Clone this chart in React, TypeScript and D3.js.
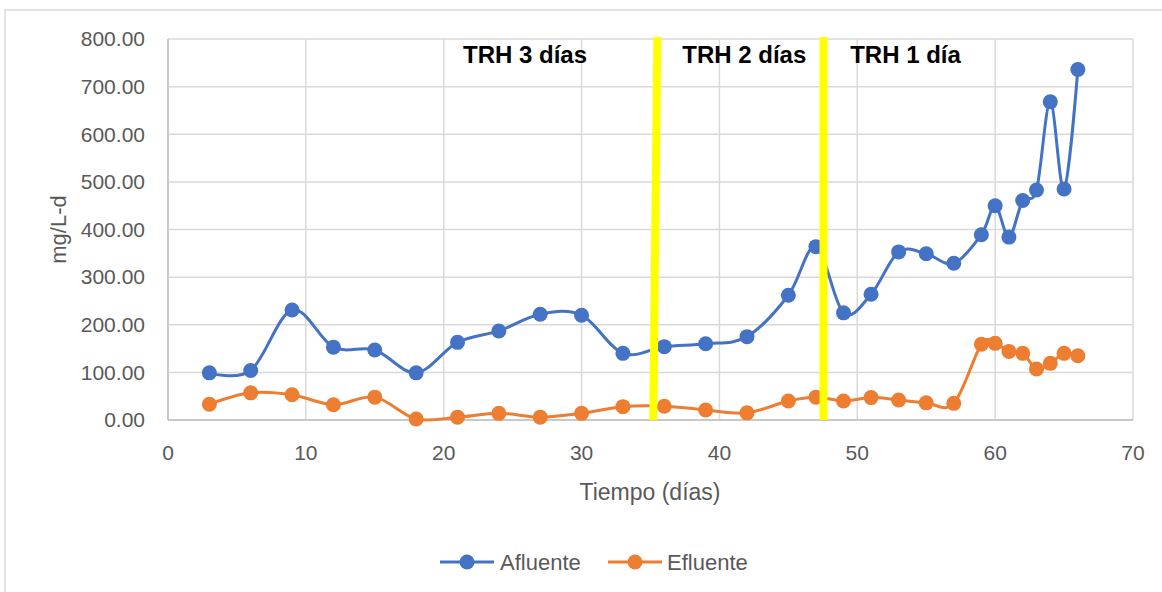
import React from 'react';
import * as d3 from 'd3';

// days of sampling
const dias = [3, 6, 9, 12, 15, 18, 21, 24, 27, 30, 33, 36, 39, 42, 45, 47, 49, 51, 53, 55, 57, 59, 60, 61, 62, 63, 64, 65, 66];
const afluente = [99, 104, 231, 153, 147, 99, 163, 187, 222, 220, 140, 154, 160, 175, 262, 364, 225, 264, 353, 349, 329, 389, 450, 384, 461, 483, 668, 485, 736];
const efluente = [33, 57, 53, 32, 48, 2, 6, 14, 6, 14, 28, 29, 21, 15, 40, 48, 40, 47, 42, 36, 35, 159, 161, 144, 140, 107, 119, 140, 135];

const series = [
  { name: 'Afluente', values: afluente, color: '#4472C4' },
  { name: 'Efluente', values: efluente, color: '#ED7D31' },
];

// yellow separators between the HRT phases (top / bottom x in days)
const separadores = [
  { top: 35.5, bottom: 35.2 },
  { top: 47.55, bottom: 47.55 },
];
const fases = ['TRH 3 días', 'TRH 2 días', 'TRH 1 día'];
const fasesX = [25.9, 41.8, 53.5];

const xTicks = [0, 10, 20, 30, 40, 50, 60, 70];
const yTicks = [0, 100, 200, 300, 400, 500, 600, 700, 800];

const W = 1162;
const H = 592;
const font = '"Liberation Sans", Arial, sans-serif';

export default function App() {
  const x = d3.scaleLinear().domain([0, 70]).range([168, 1133]);
  const y = d3.scaleLinear().domain([0, 800]).range([420, 39]);

  const line = d3
    .line<number>()
    .x((_, i) => x(dias[i]))
    .y((d) => y(d))
    .curve(d3.curveCatmullRom.alpha(0));

  const legendItems = [
    { lx: 440, tx: 500 },
    { lx: 608, tx: 667 },
  ];

  return (
    <svg width={W} height={H} style={{ position: 'absolute', left: 0, top: 0, background: '#fff' }} fontFamily={font}>
      <rect x={5} y={10} width={W + 20} height={H + 20} fill="#fff" stroke="#D9D9D9" strokeWidth={1.5} />

      {/* grid */}
      {yTicks.map((t) => (
        <line key={'gy' + t} x1={x(0)} x2={x(70)} y1={y(t)} y2={y(t)} stroke="#D9D9D9" strokeWidth={1.5} />
      ))}
      {xTicks.map((t) => (
        <line key={'gx' + t} x1={x(t)} x2={x(t)} y1={y(0)} y2={y(800)} stroke="#D9D9D9" strokeWidth={1.5} />
      ))}
      <line x1={x(0)} x2={x(0)} y1={y(0)} y2={y(800)} stroke="#BFBFBF" strokeWidth={1.5} />
      <line x1={x(0)} x2={x(70)} y1={y(0)} y2={y(0)} stroke="#BFBFBF" strokeWidth={1.5} />

      {/* tick labels */}
      {yTicks.map((t) => (
        <text key={'ly' + t} x={145} y={y(t)} dy="0.35em" textAnchor="end" fontSize={21} fill="#595959">
          {d3.format('.2f')(t)}
        </text>
      ))}
      {xTicks.map((t) => (
        <text key={'lx' + t} x={x(t)} y={459.5} textAnchor="middle" fontSize={21} fill="#595959">
          {t}
        </text>
      ))}

      <text x={650} y={500} textAnchor="middle" fontSize={23} fill="#595959">
        Tiempo (días)
      </text>
      <text transform={`translate(66,${(y(0) + y(800)) / 2}) rotate(-90)`} textAnchor="middle" fontSize={22} fill="#595959">
        mg/L-d
      </text>

      {/* series */}
      {series.map((s) => (
        <g key={s.name}>
          <path d={line(s.values) || ''} fill="none" stroke={s.color} strokeWidth={3} />
          {s.values.map((v, i) => (
            <circle key={i} cx={x(dias[i])} cy={y(v)} r={7.5} fill={s.color} />
          ))}
        </g>
      ))}

      {/* phase separators */}
      {separadores.map((s, i) => (
        <line key={'sep' + i} x1={x(s.top)} x2={x(s.bottom)} y1={37} y2={y(0)} stroke="#FFFF00" strokeWidth={8} />
      ))}
      {fases.map((f, i) => (
        <text key={f} x={x(fasesX[i])} y={y(750)} textAnchor="middle" fontSize={24} fontWeight="bold" fill="#000">
          {f}
        </text>
      ))}

      {/* legend */}
      {series.map((s, i) => (
        <g key={'leg' + s.name}>
          <line x1={legendItems[i].lx} x2={legendItems[i].lx + 54} y1={562} y2={562} stroke={s.color} strokeWidth={3} />
          <circle cx={legendItems[i].lx + 27} cy={562} r={7.5} fill={s.color} />
          <text x={legendItems[i].tx} y={562} dy="0.35em" fontSize={22} fill="#595959">
            {s.name}
          </text>
        </g>
      ))}
    </svg>
  );
}
